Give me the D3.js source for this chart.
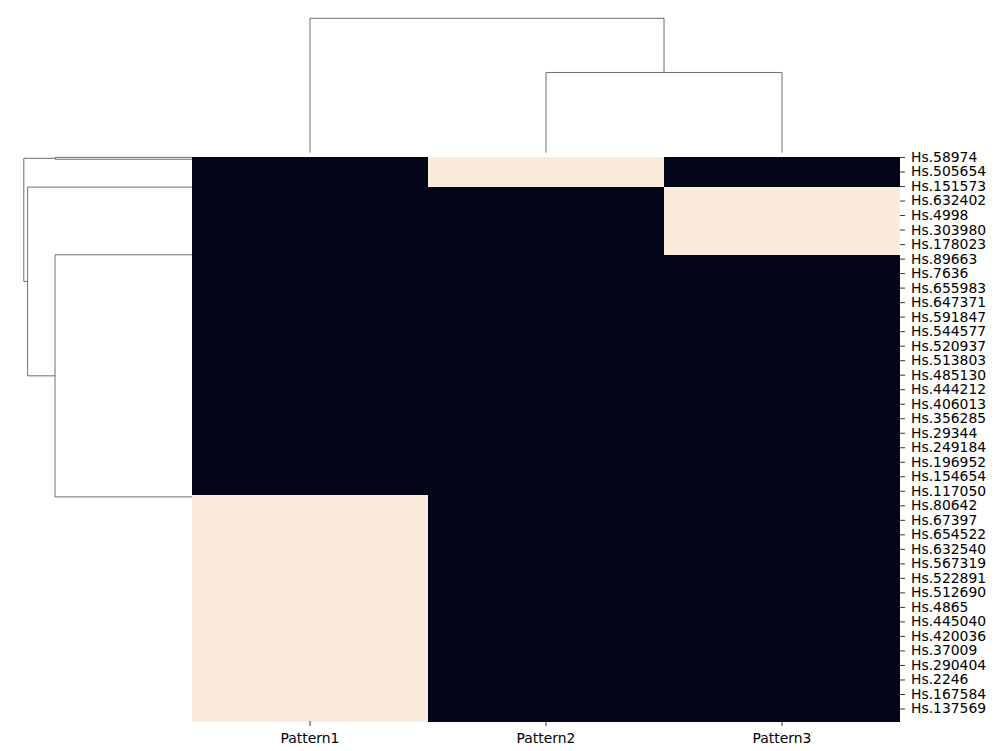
<!DOCTYPE html>
<html>
<head>
<meta charset="utf-8">
<script src="https://cdn.jsdelivr.net/npm/d3@7"></script>
<style>
  html, body { margin: 0; padding: 0; background: #fff; }
  svg { display: block; }
  .tick text { font-family: "DejaVu Sans", sans-serif; font-size: 13.9px; fill: #000; }
  .tick line { stroke: #000; stroke-width: 0.8; }
</style>
</head>
<body>
<svg id="chart" width="1000" height="751"></svg>
<script>
// ---- data ----
const columns = ["Pattern1", "Pattern2", "Pattern3"];

const rowTickLabels = [
  "Hs.58974", "Hs.505654", "Hs.151573", "Hs.632402", "Hs.4998", "Hs.303980",
  "Hs.178023", "Hs.89663", "Hs.7636", "Hs.655983", "Hs.647371", "Hs.591847",
  "Hs.544577", "Hs.520937", "Hs.513803", "Hs.485130", "Hs.444212", "Hs.406013",
  "Hs.356285", "Hs.29344", "Hs.249184", "Hs.196952", "Hs.154654", "Hs.117050",
  "Hs.80642", "Hs.67397", "Hs.654522", "Hs.632540", "Hs.567319", "Hs.522891",
  "Hs.512690", "Hs.4865", "Hs.445040", "Hs.420036", "Hs.37009", "Hs.290404",
  "Hs.2246", "Hs.167584", "Hs.137569"
];

// cell values, one per heatmap row (75 rows)
const pattern1 = [
  0,0,0,0,0,0,0,0,0,0,0,0,0,0,0,
  0,0,0,0,0,0,0,0,0,0,0,0,0,0,0,
  0,0,0,0,0,0,0,0,0,0,0,0,0,0,0,
  1,1,1,1,1,1,1,1,1,1,1,1,1,1,1,
  1,1,1,1,1,1,1,1,1,1,1,1,1,1,1
];
const pattern2 = [
  1,1,1,1,0,0,0,0,0,0,0,0,0,0,0,
  0,0,0,0,0,0,0,0,0,0,0,0,0,0,0,
  0,0,0,0,0,0,0,0,0,0,0,0,0,0,0,
  0,0,0,0,0,0,0,0,0,0,0,0,0,0,0,
  0,0,0,0,0,0,0,0,0,0,0,0,0,0,0
];
const pattern3 = [
  0,0,0,0,1,1,1,1,1,1,1,1,1,0,0,
  0,0,0,0,0,0,0,0,0,0,0,0,0,0,0,
  0,0,0,0,0,0,0,0,0,0,0,0,0,0,0,
  0,0,0,0,0,0,0,0,0,0,0,0,0,0,0,
  0,0,0,0,0,0,0,0,0,0,0,0,0,0,0
];

// row dendrogram links: positions in row units, heights in distance units
const rowLinkPos = [
  [0.05, 0.05, 0.3, 0.3],
  [13, 13, 45.2, 45.2],
  [4, 4, 29.1, 29.1],
  [0.175, 0.175, 16.55, 16.55]
];
const rowLinkDist = [
  [0, 1, 1, 0],
  [0, 1, 1, 0],
  [0, 1.2, 1.2, 1],
  [1, 1.228, 1.228, 1.2]
];

// column dendrogram links: positions in column units (0.5 = center of first column)
const colLinkPos = [
  [1.5, 1.5, 2.5, 2.5],
  [0.5, 0.5, 2, 2]
];
const colLinkDist = [
  [0, 3.606, 3.606, 0],
  [0, 6.04, 6.04, 3.606]
];

// ---- layout ----
const hm = { left: 192, right: 900, top: 157, bottom: 721 };
const nRows = pattern1.length;
const series = [pattern1, pattern2, pattern3];

const svg = d3.select("#chart");

const x = d3.scaleBand().domain(columns).range([hm.left, hm.right]);
const y = d3.scaleBand().domain(d3.range(nRows)).range([hm.top, hm.bottom]);
const rowPos = d3.scaleLinear().domain([0, nRows]).range([hm.top, hm.bottom]);
const colPos = d3.scaleLinear().domain([0, columns.length]).range([hm.left, hm.right]);
const color = d3.scaleOrdinal().domain([0, 1]).range(["#03051a", "#faebdd"]);

// heatmap cells
const cells = [];
series.forEach((s, ci) => s.forEach((v, ri) => cells.push({ col: columns[ci], row: ri, v })));
svg.append("g")
  .attr("shape-rendering", "crispEdges")
  .selectAll("rect").data(cells).join("rect")
  .attr("x", d => x(d.col))
  .attr("y", d => y(d.row))
  .attr("width", x.bandwidth())
  .attr("height", y.bandwidth() + 0.6)
  .attr("fill", d => color(d.v));

// row tick labels (right)
const yLab = d3.scalePoint().domain(rowTickLabels).range([157, 708.5]);
const yAxis = svg.append("g")
  .attr("transform", `translate(${hm.right},0)`)
  .call(d3.axisRight(yLab).tickSize(5).tickPadding(6));
yAxis.select(".domain").remove();

// column tick labels (bottom)
const xAxis = svg.append("g")
  .attr("transform", `translate(0,${hm.bottom})`)
  .call(d3.axisBottom(x).tickSize(5).tickPadding(7));
xAxis.select(".domain").remove();

// row dendrogram
const dRow = d3.scaleLinear().domain([0, 1.228]).range([hm.left, 23.8]);
const rowLine = d3.line().x(p => dRow(p[1])).y(p => rowPos(p[0]));
svg.append("g").selectAll("path")
  .data(rowLinkPos.map((ps, i) => ps.map((p, j) => [p, rowLinkDist[i][j]])))
  .join("path")
  .attr("d", rowLine)
  .attr("fill", "none")
  .attr("stroke", "#6e6e6e")
  .attr("stroke-width", 1);

// column dendrogram
const dCol = d3.scaleLinear().domain([0, 6.04]).range([152.7, 18.3]);
const colLine = d3.line().x(p => colPos(p[0])).y(p => dCol(p[1]));
svg.append("g").selectAll("path")
  .data(colLinkPos.map((ps, i) => ps.map((p, j) => [p, colLinkDist[i][j]])))
  .join("path")
  .attr("d", colLine)
  .attr("fill", "none")
  .attr("stroke", "#6e6e6e")
  .attr("stroke-width", 1);
</script>
</body>
</html>
